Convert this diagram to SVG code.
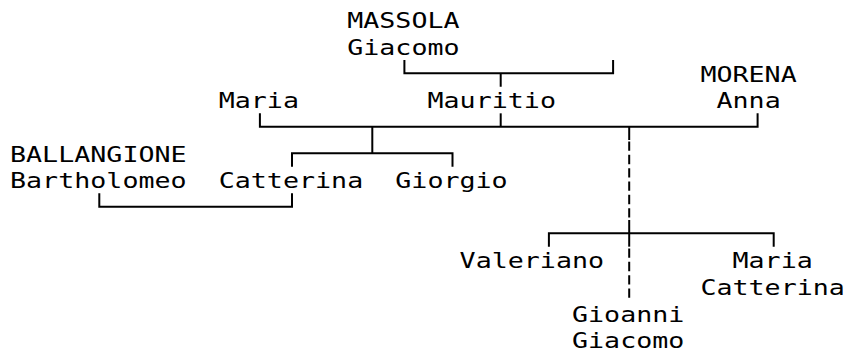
<svg xmlns="http://www.w3.org/2000/svg" width="848" height="354" viewBox="0 0 848 354">
  <style>
    text { font-family: "DejaVu Sans Mono", "Liberation Mono", monospace; font-size: 26.67px; fill: #000; }
    .ln { fill: none; stroke: #000; stroke-width: 2; stroke-linejoin: miter; stroke-linecap: butt; }
    .dash { fill: none; stroke: #000; stroke-width: 2; stroke-dasharray: 9.33 4; }
  </style>
  <rect width="848" height="354" fill="#fff"/>
  <g id="connectors">
    <!-- MASSOLA Giacomo to Mauritio -->
    <path class="ln" d="M404.4 60 V73.33 H613.1 V60 M500.7 73.33 V86.67"/>
    <!-- Mauritio stem down to marriage line -->
    <path class="ln" d="M500.7 113.33 V126.67"/>
    <!-- Maria x Mauritio x Anna line -->
    <path class="ln" d="M259.9 113.33 V126.67 H757.6 V113.33"/>
    <!-- children of Maria & Mauritio -->
    <path class="ln" d="M372.3 126.67 V153.33"/>
    <path class="ln" d="M292 166.67 V153.33 H452.5 V166.67"/>
    <!-- Bartholomeo x Catterina -->
    <path class="ln" d="M99.3 193.33 V206.67 H292 V193.33"/>
    <!-- Mauritio & Anna children (dashed) -->
    <path class="ln" d="M629.2 126.67 V140"/>
    <path class="dash" d="M629.2 141.5 V220"/>
    <path class="ln" d="M629.2 220 V246.67"/>
    <path class="ln" d="M548.9 246.67 V233.33 H773.7 V246.67"/>
    <path class="dash" d="M629.2 248.5 V300"/>
  </g>
  <g id="massola-giacomo">
    <text transform="translate(347.2 28.3) scale(1 0.77)">MASSOLA</text>
    <text transform="translate(347.2 55) scale(1 0.77)">Giacomo</text>
  </g>
  <g id="maria">
    <text transform="translate(218.7 108.3) scale(1 0.77)">Maria</text>
  </g>
  <g id="mauritio">
    <text transform="translate(427.5 108.3) scale(1 0.77)">Mauritio</text>
  </g>
  <g id="morena-anna">
    <text transform="translate(700.4 81.7) scale(1 0.77)">MORENA</text>
    <text transform="translate(716.5 108.3) scale(1 0.77)">Anna</text>
  </g>
  <g id="ballangione-bartholomeo">
    <text transform="translate(10 161.7) scale(1 0.77)">BALLANGIONE</text>
    <text transform="translate(10 188.3) scale(1 0.77)">Bartholomeo</text>
  </g>
  <g id="catterina">
    <text transform="translate(218.7 188.3) scale(1 0.77)">Catterina</text>
  </g>
  <g id="giorgio">
    <text transform="translate(395.3 188.3) scale(1 0.77)">Giorgio</text>
  </g>
  <g id="valeriano">
    <text transform="translate(459.6 268.3) scale(1 0.77)">Valeriano</text>
  </g>
  <g id="maria-catterina">
    <text transform="translate(732.5 268.3) scale(1 0.77)">Maria</text>
    <text transform="translate(700.4 295) scale(1 0.77)">Catterina</text>
  </g>
  <g id="gioanni-giacomo">
    <text transform="translate(572 321.7) scale(1 0.77)">Gioanni</text>
    <text transform="translate(572 348.3) scale(1 0.77)">Giacomo</text>
  </g>
</svg>
